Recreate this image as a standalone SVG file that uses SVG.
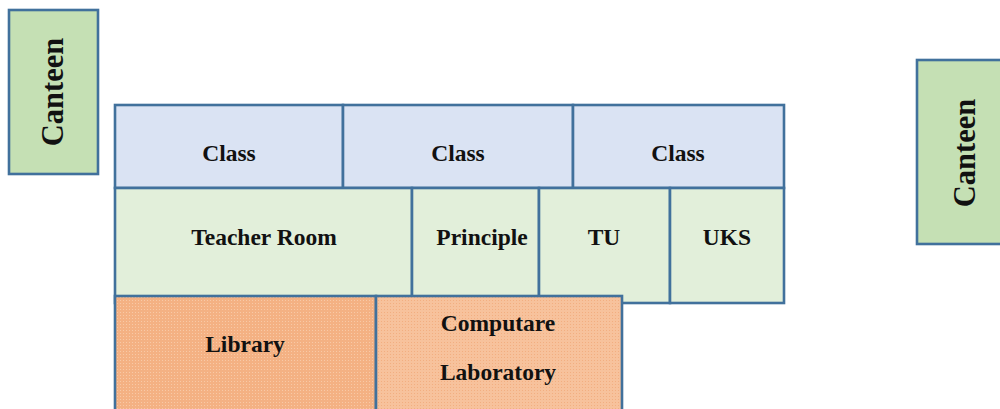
<svg xmlns="http://www.w3.org/2000/svg" width="1000" height="409" viewBox="0 0 1000 409">
  <style>
    .box{stroke:#41719C;stroke-width:2.6}
    .cls{fill:#DAE3F3}
    .grn{fill:#E2EFDA}
    .cant{fill:#C5E0B4}
    .lib{fill:url(#dotA)}
    .lab{fill:url(#dotB)}
    text{font-family:"Liberation Serif","Times New Roman",serif;font-weight:bold;fill:#111;text-anchor:middle}
    .t{font-size:23.5px}
    .c{font-size:30.5px}
  </style>
  <defs>
    <pattern id="dotA" width="3" height="3" patternUnits="userSpaceOnUse">
      <rect width="3" height="3" fill="#F4B183"/>
      <rect width="1" height="1" fill="#F8C9A6"/>
    </pattern>
    <pattern id="dotB" width="3" height="3" patternUnits="userSpaceOnUse">
      <rect width="3" height="3" fill="#F7C29C"/>
      <rect width="1" height="1" fill="#F2AE80"/>
    </pattern>
  </defs>
  <rect width="1000" height="409" fill="#fff"/>
  <g id="canteen-left">
    <rect class="box cant" x="9" y="10" width="89" height="164"/>
    <text class="c" transform="translate(63,92) rotate(-90)">Canteen</text>
  </g>
  <g id="canteen-right">
    <rect class="box cant" x="917" y="60" width="95" height="184"/>
    <text class="c" transform="translate(975,153) rotate(-90)">Canteen</text>
  </g>
  <g id="class1">
    <rect class="box cls" x="115" y="105" width="228" height="83"/>
    <text class="t" x="229" y="161">Class</text>
  </g>
  <g id="class2">
    <rect class="box cls" x="343" y="105" width="230" height="83"/>
    <text class="t" x="458" y="161">Class</text>
  </g>
  <g id="class3">
    <rect class="box cls" x="573" y="105" width="211" height="83"/>
    <text class="t" x="678" y="161">Class</text>
  </g>
  <g id="teacher-room">
    <rect class="box grn" x="115" y="188" width="297" height="115"/>
    <text class="t" x="264" y="245">Teacher Room</text>
  </g>
  <g id="principle">
    <rect class="box grn" x="412" y="188" width="127" height="115"/>
    <text class="t" x="482" y="245">Principle</text>
  </g>
  <g id="tu">
    <rect class="box grn" x="539" y="188" width="131" height="115"/>
    <text class="t" x="604" y="245">TU</text>
  </g>
  <g id="uks">
    <rect class="box grn" x="670" y="188" width="114" height="115"/>
    <text class="t" x="727" y="245">UKS</text>
  </g>
  <g id="library">
    <rect class="box lib" x="115" y="296" width="261" height="130"/>
    <text class="t" x="245" y="352">Library</text>
  </g>
  <g id="computer-lab">
    <rect class="box lab" x="376" y="296" width="246" height="130"/>
    <text class="t" x="498" y="331">Computare</text>
    <text class="t" x="498" y="380">Laboratory</text>
  </g>
  <g id="connectors"/>
</svg>
